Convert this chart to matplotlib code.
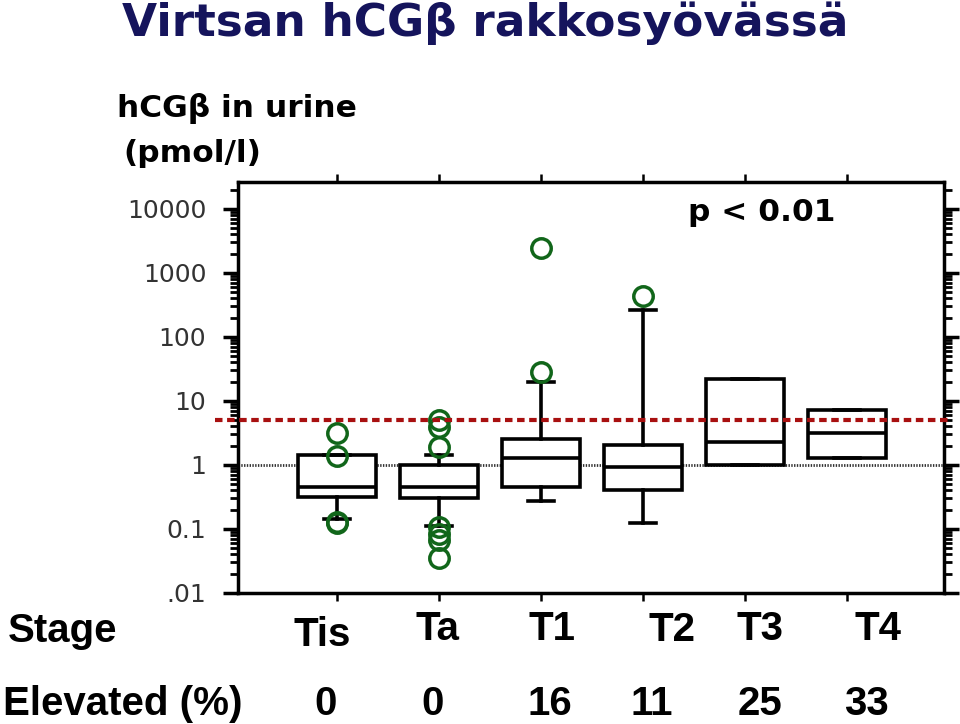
import matplotlib
matplotlib.use("Agg")
import matplotlib.pyplot as plt
from matplotlib.ticker import LogLocator, FixedLocator, NullFormatter, FixedFormatter

# ---------------- data ----------------
stages = ["Tis", "Ta", "T1", "T2", "T3", "T4"]
elevated_pct = ["0", "0", "16", "11", "25", "33"]
medians = [0.45, 0.45, 1.27, 0.92, 2.26, 3.12]
q1s = [0.32, 0.31, 0.45, 0.41, 1.0, 1.27]
q3s = [1.43, 1.0, 2.57, 2.05, 21.9, 7.2]
whis_lo = [0.144, 0.11, 0.275, 0.125, 1.0, 1.27]
whis_hi = [1.43, 1.43, 20.0, 260.0, 21.9, 7.2]
fliers_tis = [3.2, 1.38, 0.13, 0.122]
fliers_ta = [5.0, 3.9, 1.9, 0.107, 0.083, 0.067, 0.035]
fliers_t1 = [2430.0, 28.0]
fliers_t2 = [433.0]
fliers_t3 = []
fliers_t4 = []
threshold = 5.0
ref_level = 1.0
ytick_values = [10000, 1000, 100, 10, 1, 0.1, 0.01]
ytick_labels = ["10000", "1000", "100", "10", "1", "0.1", ".01"]
p_text = "p < 0.01"

fliers_all = [fliers_tis, fliers_ta, fliers_t1, fliers_t2, fliers_t3, fliers_t4]

# ---------------- figure ----------------
W, H = 960, 724
fig = plt.figure(figsize=(W / 100, H / 100), dpi=100)
fig.patch.set_facecolor("white")

ax_left, ax_right, ax_top, ax_bot = 238, 944, 182, 593
ax = fig.add_axes([ax_left / W, 1 - ax_bot / H, (ax_right - ax_left) / W, (ax_bot - ax_top) / H])

positions = list(range(1, len(stages) + 1))
stats = []
for i in range(len(stages)):
    stats.append(dict(med=medians[i], q1=q1s[i], q3=q3s[i],
                      whislo=whis_lo[i], whishi=whis_hi[i], fliers=fliers_all[i]))

green = "#11661a"
lw = 2.6
ax.bxp(stats, positions=positions, widths=0.765, showfliers=True, patch_artist=True,
       boxprops=dict(facecolor="white", edgecolor="black", linewidth=lw),
       medianprops=dict(color="black", linewidth=lw),
       whiskerprops=dict(color="black", linewidth=lw),
       capprops=dict(color="black", linewidth=lw),
       capwidths=0.25,
       flierprops=dict(marker="o", markerfacecolor="none", markeredgecolor=green,
                       markersize=14, markeredgewidth=2.5, linestyle="none"),
       zorder=3)

ax.set_yscale("log")
ax.set_ylim(10 ** -2.0, 10 ** 4.42)
ax.set_xlim(0.029, 6.95)

# reference line at 1 (dotted, behind boxes)
ax.axhline(ref_level, color="#333333", linewidth=2.0, linestyle=(0, (0.5, 0.5)), zorder=1)
# threshold line (red, square dashes, above)
tr = ax.get_yaxis_transform()
ax.plot([-0.0326, 1.011], [threshold, threshold], transform=tr, color="#a81010",
        linewidth=3.0, linestyle=(0, (1.8, 1.1)), dash_capstyle="butt",
        clip_on=False, zorder=5)

# spines
for s in ax.spines.values():
    s.set_linewidth(2.5)

# y ticks
ax.yaxis.set_major_locator(FixedLocator(ytick_values))
ax.yaxis.set_major_formatter(FixedFormatter(ytick_labels))
ax.yaxis.set_minor_locator(LogLocator(base=10, subs=[2, 3, 4, 5, 6, 7, 8, 9], numticks=20))
ax.yaxis.set_minor_formatter(NullFormatter())
ax.tick_params(axis="y", which="major", direction="out", length=10.8, width=2.5,
               left=True, right=True, labelleft=True, labelright=False,
               labelsize=18, labelcolor="#333333", pad=12)
ax.tick_params(axis="y", which="minor", direction="out", length=6, width=2.0,
               left=True, right=True)
for lab in ax.get_yticklabels():
    lab.set_family("DejaVu Sans")

# x ticks
ax.set_xticks(positions)
ax.tick_params(axis="x", which="major", direction="out", length=5.5, width=1.8,
               top=True, bottom=True, labelbottom=False, labeltop=False)
ax.tick_params(axis="x", which="minor", bottom=False, top=False)

# ---------------- texts ----------------
fig.text(485 / W, 1 - 36 / H, "Virtsan hCGβ rakkosyövässä", ha="center", va="baseline",
         fontsize=32.7, fontweight="bold", color="#15145c", family="DejaVu Sans")
fig.text(117 / W, 1 - 117 / H, "hCGβ in urine", ha="left", va="baseline",
         fontsize=22.5, fontweight="bold", color="black", family="DejaVu Sans")
fig.text(123 / W, 1 - 162 / H, "(pmol/l)", ha="left", va="baseline",
         fontsize=22.5, fontweight="bold", color="black", family="DejaVu Sans")
fig.text(688 / W, 1 - 221 / H, p_text, ha="left", va="baseline",
         fontsize=22.5, fontweight="bold", color="black", family="DejaVu Sans")

bottom_font = dict(fontsize=29, fontweight="bold", color="black", family="Liberation Sans")
fig.text(8 / W, 1 - 642 / H, "Stage", ha="left", va="baseline", **bottom_font)
fig.text(3 / W, 1 - 715 / H, "Elevated (%)", ha="left", va="baseline", **bottom_font)

stage_label_x = [322, 437, 552, 672, 760, 878]
stage_label_base = [646, 640, 640, 641, 640, 640]
for lab, x, yb in zip(stages, stage_label_x, stage_label_base):
    fig.text(x / W, 1 - yb / H, lab, ha="center", va="baseline", **bottom_font)

pct_x = [326, 433, 550, 652, 760, 866]
for lab, x in zip(elevated_pct, pct_x):
    fig.text(x / W, 1 - 715 / H, lab, ha="center", va="baseline", **bottom_font)

fig.savefig("out.png", dpi=100, facecolor="white")
